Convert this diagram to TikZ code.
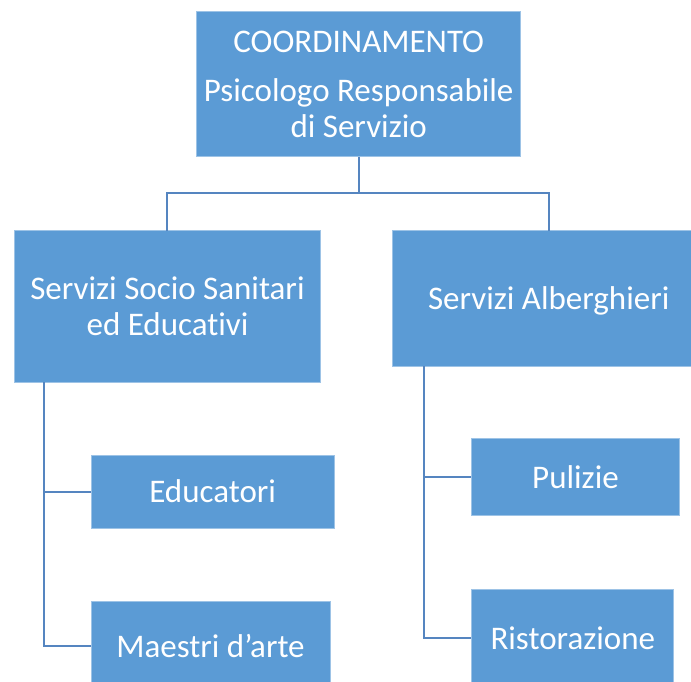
\documentclass[tikz,border=0pt]{standalone}
\usepackage{fontspec}
\setmainfont[Ligatures={NoCommon}]{Carlito}
\definecolor{boxblue}{HTML}{5B9BD5}
\definecolor{edgeblue}{HTML}{9DC3E6}
\definecolor{lineblue}{HTML}{5585C0}
\begin{document}
\begin{tikzpicture}[x=1pt,y=-1pt,
  box/.style={draw=edgeblue,line width=0.8pt,fill=boxblue,text=white,
    font=\fontsize{33}{36.6}\selectfont,align=center,inner sep=0pt,text depth=0pt},
  link/.style={draw=lineblue,line width=2pt}]
\useasboundingbox (0,0) rectangle (691,682);
\clip (0,0) rectangle (691,682);
\fill[white] (0,0) rectangle (691,682);
% boxes
\node[box,minimum width=324pt,minimum height=145pt] (coord) at (358.7,84.2)
  {COORDINAMENTO\\[12.6pt]Psicologo Responsabile\\di Servizio};
\node[box,minimum width=306pt,minimum height=152pt] (socio) at (167.5,306.2)
  {Servizi Socio Sanitari\\ed Educativi};
\node[box,minimum width=300pt,minimum height=136pt] (alb) at (542.7,298)
  {\hspace*{12pt}Servizi Alberghieri};
\node[box,minimum width=243pt,minimum height=73pt] (edu) at (212.7,491.5)
  {Educatori};
\node[box,minimum width=239pt,minimum height=89pt] (mae) at (210.5,645.5)
  {Maestri d’arte};
\node[box,minimum width=208pt,minimum height=77pt] (pul) at (575.5,477.3)
  {Pulizie};
\node[box,minimum width=202pt,minimum height=97pt] (ris) at (572.8,637.8)
  {Ristorazione};
% junction coordinates
\coordinate (j) at (359,193);
\coordinate (sl) at (44,382);
\coordinate (sr) at (424,366);
% connectors
\draw[link] (coord.south -| j) -- (j);
\draw[link] (167,231) |- (j) -| (549,231);
\draw[link] (sl) |- (mae.west);
\draw[link] (sl |- edu.west) -- (edu.west);
\draw[link] (sr) |- (ris.west);
\draw[link] (sr |- pul.west) -- (pul.west);
\end{tikzpicture}
\end{document}
